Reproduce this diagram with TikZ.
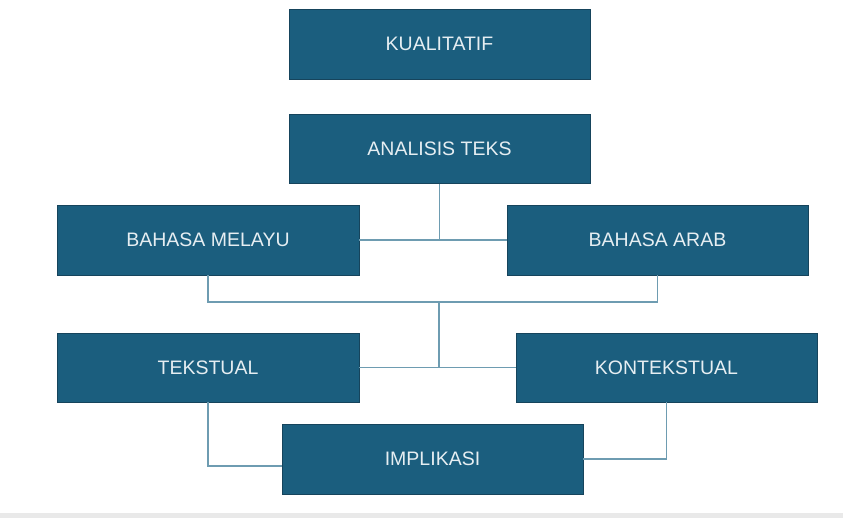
\documentclass[tikz,border=0pt]{standalone}
\usepackage{fontspec}
\setmainfont{Liberation Sans}
\definecolor{boxfill}{HTML}{1B5E7E}
\definecolor{boxdraw}{HTML}{16445C}
\definecolor{linkcol}{HTML}{6E9CB1}
\definecolor{txtcol}{HTML}{E6EEF2}
\definecolor{barcol}{HTML}{E9E9E9}
\begin{document}
\begin{tikzpicture}[x=1pt,y=1pt,
  box/.style={draw=boxdraw,line width=0.8pt,fill=boxfill,text=txtcol,
    minimum width=301pt,minimum height=70pt,inner sep=0pt,
    font=\fontsize{19.5}{22}\selectfont},
  link/.style={draw=linkcol,line width=1.5pt}]
\useasboundingbox (0,0) rectangle (843,-518);
\fill[barcol] (0,-513) rectangle (843,-518);
\node[box] (kual) at (439.5,-44) {KUALITATIF};
\node[box,minimum height=69pt] (anal) at (439.5,-149) {ANALISIS TEKS};
\node[box,minimum width=302pt] (melayu) at (208,-240) {BAHASA MELAYU};
\node[box] (arab) at (657.5,-240) {BAHASA ARAB};
\node[box,minimum width=302pt,minimum height=69pt] (tekstual) at (208,-367.5) {TEKSTUAL};
\node[box,minimum height=69pt] (konteks) at (666.5,-367.5) {KONTEKSTUAL};
\node[box] (impl) at (432.5,-459) {IMPLIKASI};
\coordinate (jtwo) at (439,-302);
\coordinate (jthree) at (439,-367.5);
\draw[link] (melayu.east) -- (arab.west);
\draw[link] (anal.south) -- (anal.south |- melayu.east);
\draw[link] (melayu.south) |- (jtwo) -| (arab.south);
\draw[link] (jtwo) -- (jthree);
\draw[link] (tekstual.east) -- (konteks.west);
\draw[link] (tekstual.south) |- ([yshift=-7pt]impl.west);
\draw[link] (konteks.south) |- (impl.east);
\end{tikzpicture}
\end{document}
